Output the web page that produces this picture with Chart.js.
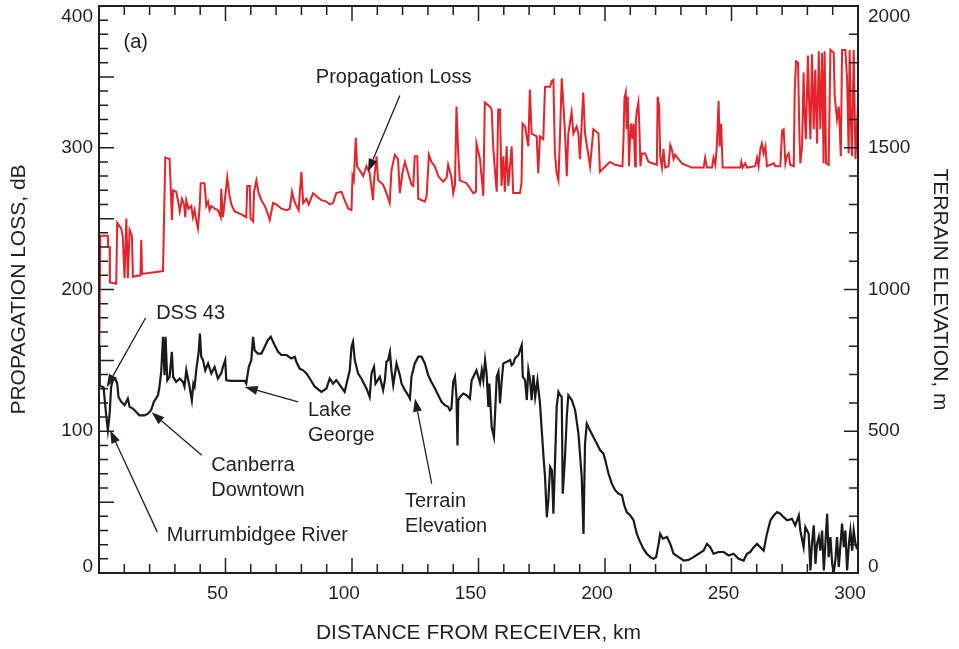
<!DOCTYPE html>
<html>
<head>
<meta charset="utf-8">
<script src="https://cdn.jsdelivr.net/npm/chart.js@4.4.1/dist/chart.umd.min.js"></script>
<style>
  html, body { margin: 0; padding: 0; background: #fff; }
  #wrap { width: 959px; height: 649px; position: relative; }
</style>
</head>
<body>
<div id="wrap"><canvas id="chart"></canvas></div>
<script>
// propagation loss (dB) against distance from receiver (km)
const lossKm = [
  0, 0.5, 3.5, 3.6, 4.2, 4.3, 6.8, 7.2, 8.8, 9.4,
  10.1, 10.8, 11.4, 12.1, 13.0, 13.4, 16.4, 16.7, 17.0, 25.3,
  25.7, 26.2, 27.9, 28.3, 28.8, 29.3, 30.5, 31.2, 31.9, 32.8,
  33.6, 34.1, 34.5, 35.4, 36.5, 37.1, 37.8, 38.4, 39.1, 39.8,
  40.2, 41.7, 42.4, 43.1, 43.7, 44.4, 45.7, 47.0, 48.1, 48.3,
  49.0, 50.7, 51.6, 52.3, 53.6, 56.3, 58.2, 58.6, 59.6, 59.9,
  60.9, 61.3, 62.2, 63.1, 64.2, 65.5, 66.8, 67.5, 68.8, 70.1,
  72.1, 74.1, 75.4, 76.3, 77.1, 78.0, 78.9, 80.0, 80.7, 82.0,
  82.9, 84.6, 85.9, 87.9, 89.9, 91.2, 92.5, 93.8, 95.8, 97.1,
  98.5, 99.8, 100.2, 100.7, 101.5, 102.0, 103.1, 104.4, 105.7, 107.0,
  108.3, 108.7, 109.7, 110.3, 112.3, 113.6, 114.9, 115.6, 116.9, 118.2,
  118.9, 119.9, 120.9, 122.2, 123.5, 124.2, 124.8, 125.8, 126.2, 128.8,
  129.5, 130.4, 131.4, 132.7, 134.1, 136.0, 137.4, 138.0, 139.3, 140.0,
  140.7, 141.3, 142.0, 142.6, 145.3, 147.9, 149.0, 149.2, 150.6, 151.9,
  152.5, 154.5, 155.2, 155.8, 156.5, 157.2, 157.8, 158.5, 159.1, 159.8,
  160.4, 161.1, 161.8, 163.1, 163.7, 166.4, 167.0, 167.4, 168.4, 169.7,
  170.3, 171.0, 173.0, 173.6, 174.3, 175.6, 176.3, 178.3, 178.9, 179.6,
  180.2, 180.9, 181.6, 182.2, 182.9, 183.5, 184.2, 184.9, 185.5, 186.8,
  187.5, 188.8, 189.5, 190.1, 191.4, 192.1, 194.1, 195.4, 197.4, 198.0,
  200.7, 202.0, 204.0, 206.9, 207.3, 207.7, 208.2, 208.6, 209.0, 209.5,
  209.9, 210.3, 210.9, 211.3, 211.9, 212.2, 212.7, 213.2, 213.6, 214.0,
  214.6, 215.9, 217.2, 220.5, 220.8, 221.4, 221.8, 222.5, 223.1, 223.8,
  225.1, 225.8, 226.4, 227.1, 227.7, 230.4, 234.3, 239.0, 239.6, 240.3,
  242.3, 242.9, 243.6, 244.2, 244.9, 245.3, 245.9, 246.5, 253.5, 253.9,
  254.4, 255.4, 256.1, 259.4, 260.1, 260.7, 261.4, 262.0, 262.7, 263.4,
  264.0, 266.7, 267.3, 269.3, 270.0, 270.6, 271.3, 271.9, 272.6, 273.2,
  274.6, 275.0, 275.5, 276.3, 276.8, 277.2, 277.9, 278.5, 278.9, 279.4,
  280.2, 280.8, 281.2, 281.8, 282.5, 283.1, 283.8, 284.5, 285.1, 285.8,
  286.4, 286.8, 287.4, 288.4, 289.1, 290.4, 290.8, 291.7, 292.4, 292.8,
  293.2, 293.7, 295.0, 295.7, 296.3, 296.7, 297.1, 297.6, 298.3, 299.0,
  299.6, 300
];
const lossDb = [
  132, 238, 238, 230, 230, 205, 204, 247, 243, 237,
  208, 250, 208, 242, 238, 209, 210, 235, 211, 213,
  250, 293, 292, 275, 249, 270, 269, 263, 255, 264,
  260, 251, 263, 257, 259, 251, 256, 249, 243, 259,
  275, 275, 259, 262, 256, 259, 257, 256, 251, 271,
  251, 279, 266, 260, 255, 253, 251, 273, 273, 250,
  248, 269, 277, 268, 263, 259, 253, 249, 261, 260,
  257, 256, 257, 269, 263, 259, 256, 283, 261, 264,
  260, 268, 266, 263, 262, 260, 261, 268, 269, 263,
  257, 256, 280, 277, 307, 287, 284, 280, 287, 282,
  263, 277, 294, 277, 274, 268, 261, 284, 295, 292,
  268, 282, 290, 282, 274, 273, 294, 294, 264, 262,
  266, 295, 290, 287, 280, 276, 279, 288, 279, 268,
  274, 329, 296, 277, 275, 268, 269, 303, 292, 266,
  332, 329, 327, 301, 284, 269, 327, 327, 273, 294,
  269, 301, 273, 301, 268, 268, 275, 317, 315, 301,
  341, 310, 308, 282, 308, 306, 343, 343, 347, 348,
  296, 282, 277, 308, 349, 332, 310, 280, 310, 325,
  310, 315, 310, 292, 339, 310, 287, 313, 310, 283,
  288, 290, 288, 287, 306, 335, 339, 313, 336, 287,
  306, 317, 306, 317, 287, 320, 327, 332, 313, 287,
  296, 296, 290, 288, 336, 329, 294, 286, 299, 286,
  287, 302, 299, 292, 295, 289, 286, 286, 293, 286,
  286, 293, 288, 301, 333, 301, 317, 286, 286, 290,
  286, 289, 286, 287, 293, 287, 299, 303, 296, 301,
  287, 289, 287, 287, 312, 313, 289, 294, 296, 288,
  287, 341, 361, 360, 313, 289, 301, 353, 325, 306,
  365, 325, 306, 366, 313, 355, 303, 368, 313, 367,
  289, 368, 289, 288, 369, 367, 336, 320, 329, 313,
  294, 369, 369, 348, 296, 369, 325, 294, 369, 292,
  315, 332
];

// terrain elevation (m) along the same path
const terrainKm = [
  0, 0.3, 1.8, 2.8, 3.5, 4.2, 4.8, 5.5, 6.4, 7.2,
  7.7, 8.8, 10.1, 11.4, 12.1, 13.4, 14.7, 16.0, 18.0, 19.3,
  20.6, 21.7, 23.3, 23.9, 24.6, 25.3, 25.9, 26.3, 27.0, 27.9,
  28.8, 29.3, 30.5, 31.9, 33.2, 33.8, 34.5, 35.8, 36.7, 37.3,
  37.8, 38.5, 39.4, 39.9, 40.4, 41.1, 42.0, 43.1, 44.4, 45.7,
  47.0, 48.3, 49.0, 49.9, 50.3, 52.3, 54.9, 57.6, 58.2, 59.2,
  60.2, 60.9, 61.5, 62.8, 64.2, 65.5, 66.8, 67.9, 69.4, 70.8,
  72.1, 74.1, 76.0, 77.4, 78.0, 79.3, 80.7, 82.0, 83.3, 85.3,
  87.9, 89.9, 91.2, 92.5, 93.8, 95.2, 97.1, 99.1, 99.8, 100.4,
  101.1, 102.4, 103.7, 105.7, 107.0, 107.7, 108.7, 109.3, 111.0, 112.3,
  113.0, 113.6, 114.3, 115.0, 115.6, 116.3, 117.6, 118.9, 119.6, 120.9,
  122.2, 122.9, 123.5, 124.8, 126.2, 127.5, 128.8, 130.1, 131.4, 132.8,
  134.1, 135.4, 136.7, 138.0, 138.7, 139.3, 140.0, 140.7, 141.3, 141.7,
  142.0, 142.7, 144.0, 145.3, 146.6, 147.3, 148.6, 149.2, 150.6, 151.3,
  151.9, 152.6, 153.2, 153.9, 154.3, 155.2, 156.1, 156.5, 157.2, 157.9,
  158.5, 159.2, 159.8, 161.2, 162.5, 163.1, 163.8, 164.4, 165.8, 166.4,
  167.1, 167.5, 168.4, 169.1, 169.7, 170.4, 171.0, 171.7, 172.4, 173.3,
  174.3, 175.0, 175.7, 176.3, 177.0, 177.6, 178.3, 179.0, 179.6, 180.3,
  180.9, 181.6, 182.3, 182.9, 183.3, 184.2, 184.9, 185.5, 186.9, 188.2,
  189.5, 190.8, 191.5, 192.1, 192.8, 194.1, 195.4, 196.8, 198.1, 199.4,
  200.1, 201.4, 202.7, 204.0, 205.3, 206.7, 207.6, 208.6, 210.0, 211.3,
  211.9, 212.6, 213.6, 215.2, 216.5, 217.9, 219.2, 220.2, 221.2, 221.8,
  222.9, 224.5, 225.8, 227.1, 229.1, 231.1, 233.0, 235.0, 237.0, 239.0,
  240.3, 241.6, 242.9, 244.9, 246.9, 248.9, 250.8, 252.8, 254.8, 256.1,
  257.4, 258.8, 260.1, 261.4, 262.7, 264.0, 265.4, 266.7, 268.0, 269.3,
  270.6, 272.0, 273.9, 275.2, 276.6, 277.2, 278.5, 279.2, 280.5, 281.2,
  281.8, 282.5, 283.2, 283.8, 284.5, 285.1, 285.8, 286.5, 287.1, 287.8,
  288.4, 289.1, 289.8, 290.4, 291.1, 291.7, 292.4, 293.7, 294.4, 295.0,
  295.7, 296.4, 297.0, 297.7, 298.3, 299.0, 299.4, 300
];
const terrainM = [
  800, 660, 655, 560, 503, 560, 657, 680, 686, 668,
  621, 604, 592, 615, 586, 580, 568, 556, 556, 562,
  574, 604, 627, 657, 710, 833, 698, 833, 680, 692,
  780, 692, 674, 686, 674, 657, 715, 657, 609, 668,
  657, 721, 780, 845, 763, 751, 715, 739, 704, 727,
  686, 704, 727, 751, 680, 678, 678, 678, 668, 727,
  751, 833, 786, 774, 774, 798, 822, 833, 804, 780,
  769, 769, 757, 763, 745, 721, 715, 704, 686, 657,
  639, 651, 686, 668, 680, 663, 639, 715, 798, 816,
  751, 704, 686, 651, 621, 704, 727, 668, 692, 645,
  680, 745, 751, 780, 715, 663, 739, 698, 668, 645,
  627, 615, 692, 739, 763, 763, 739, 698, 674, 651,
  627, 604, 592, 586, 574, 580, 674, 692, 621, 450,
  609, 621, 633, 627, 615, 680, 704, 715, 670, 716,
  680, 751, 704, 586, 668, 515, 480, 551, 692, 710,
  598, 680, 739, 745, 751, 733, 739, 757, 769, 786,
  804, 692, 680, 610, 716, 680, 610, 698, 621, 680,
  598, 503, 409, 339, 197, 256, 374, 362, 209, 409,
  586, 639, 627, 621, 280, 409, 551, 627, 610, 574,
  492, 339, 138, 456, 527, 503, 480, 456, 433, 421,
  398, 350, 315, 292, 280, 274, 239, 215, 203, 186,
  162, 138, 115, 85, 68, 56, 50, 56, 103, 138,
  121, 127, 103, 68, 56, 44, 46, 56, 68, 79,
  103, 91, 68, 74, 74, 62, 68, 50, 44, 68,
  74, 91, 103, 91, 79, 138, 186, 203, 215, 209,
  197, 186, 191, 168, 203, 150, 91, 162, 138, 9,
  103, 168, 32, 103, 127, 79, 150, 9, 103, 209,
  56, 127, 32, 0, 50, 127, 21, 174, 91, 150,
  9, 103, 150, 79, 150, 103, 91, 100
];

const distanceTicks = [50, 100, 150, 200, 250, 300];
const lossTicks = [0, 100, 200, 300, 400];
const elevationTicks = [0, 500, 1000, 1500, 2000];

// callouts, placed in (km, dB) units
const notes = [
  { lines: ['(a)'], km: 9.7, db: 374 },
  { lines: ['Propagation Loss'], km: 85.7, db: 349.5 },
  { lines: ['DSS 43'], km: 22.6, db: 183.4 },
  { lines: ['Canberra', 'Downtown'], km: 44.4, db: 76 },
  { lines: ['Murrumbidgee River'], km: 26.8, db: 26.5 },
  { lines: ['Lake', 'George'], km: 82.6, db: 114.8 },
  { lines: ['Terrain', 'Elevation'], km: 120.9, db: 50.5 }
];
const arrows = [
  { from: [118.9, 336.8], to: [106.3, 283] },
  { from: [18.4, 179.9], to: [3.0, 131.1] },
  { from: [40.6, 83.0], to: [20.8, 113.4] },
  { from: [23.0, 29], to: [4.4, 100.7] },
  { from: [78.7, 120.7], to: [57.6, 131.3] },
  { from: [131.5, 63], to: [124.9, 123.1] }
];

const INK = '#231f20';
const FONT = '"Liberation Sans", Arial, sans-serif';

function drawArrow(ctx, x1, y1, x2, y2) {
  const ang = Math.atan2(y2 - y1, x2 - x1);
  const len = 13, half = 4.5;
  const bx = x2 - Math.cos(ang) * len, by = y2 - Math.sin(ang) * len;
  ctx.beginPath();
  ctx.moveTo(x1, y1);
  ctx.lineTo(bx, by);
  ctx.stroke();
  ctx.beginPath();
  ctx.moveTo(x2, y2);
  ctx.lineTo(bx + Math.sin(ang) * half, by - Math.cos(ang) * half);
  ctx.lineTo(bx - Math.sin(ang) * half, by + Math.cos(ang) * half);
  ctx.closePath();
  ctx.fill();
}

const frameAndLabels = {
  id: 'frameAndLabels',
  afterDatasetsDraw(chart) {
    const { ctx, chartArea: a, scales } = chart;
    const x = scales.x, yl = scales.yLoss, yr = scales.yElev;
    ctx.save();
    ctx.strokeStyle = INK;
    ctx.fillStyle = INK;

    // inward tick marks
    ctx.lineWidth = 1.5;
    ctx.beginPath();
    for (let v = 10; v < 300; v += 10) {
      const px = x.getPixelForValue(v);
      const len = v % 50 === 0 ? 15 : 9;
      ctx.moveTo(px, a.bottom); ctx.lineTo(px, a.bottom - len);
      ctx.moveTo(px, a.top); ctx.lineTo(px, a.top + len);
    }
    for (let v = 10; v < 400; v += 10) {
      const py = yl.getPixelForValue(v);
      ctx.moveTo(a.left, py); ctx.lineTo(a.left + (v % 50 === 0 ? 15 : 9), py);
    }
    for (let v = 100; v < 2000; v += 100) {
      const py = yr.getPixelForValue(v);
      ctx.moveTo(a.right, py); ctx.lineTo(a.right - (v % 500 === 0 ? 14 : 9), py);
    }
    ctx.stroke();

    ctx.lineWidth = 2;
    ctx.strokeRect(a.left, a.top, a.width, a.height);

    // tick labels
    ctx.font = '19px ' + FONT;
    ctx.textBaseline = 'middle';
    const clampY = py => Math.min(Math.max(py, a.top + 11), a.bottom - 6);
    ctx.textAlign = 'right';
    lossTicks.forEach(v => ctx.fillText(String(v), a.left - 6, clampY(yl.getPixelForValue(v))));
    ctx.textAlign = 'left';
    elevationTicks.forEach(v => ctx.fillText(String(v), a.right + 10, clampY(yr.getPixelForValue(v))));
    ctx.textAlign = 'center';
    distanceTicks.forEach(v => ctx.fillText(String(v), x.getPixelForValue(v) - 8, a.bottom + 21));

    // callouts
    ctx.font = '20px ' + FONT;
    ctx.textAlign = 'left';
    notes.forEach(n => {
      const px = x.getPixelForValue(n.km), py = yl.getPixelForValue(n.db);
      n.lines.forEach((t, i) => ctx.fillText(t, px, py + i * 25));
    });
    ctx.lineWidth = 1.3;
    arrows.forEach(ar => drawArrow(ctx,
      x.getPixelForValue(ar.from[0]), yl.getPixelForValue(ar.from[1]),
      x.getPixelForValue(ar.to[0]), yl.getPixelForValue(ar.to[1])));
    ctx.restore();
  }
};

const titleFont = { family: FONT, size: 21 };

new Chart(document.getElementById('chart'), {
  type: 'line',
  data: {
    datasets: [
      {
        label: 'Terrain Elevation',
        data: terrainKm.map((km, i) => ({ x: km, y: terrainM[i] })),
        yAxisID: 'yElev',
        borderColor: '#1a1a1a',
        borderWidth: 2.2,
        pointRadius: 0,
        tension: 0
      },
      {
        label: 'Propagation Loss',
        data: lossKm.map((km, i) => ({ x: km, y: lossDb[i] })),
        yAxisID: 'yLoss',
        borderColor: '#e4232a',
        borderWidth: 2,
        pointRadius: 0,
        tension: 0
      }
    ]
  },
  options: {
    responsive: true,
    maintainAspectRatio: false,
    animation: false,
    layout: { padding: { top: 6, left: 0, right: 0, bottom: 0 } },
    plugins: { legend: { display: false }, tooltip: { enabled: false } },
    scales: {
      x: {
        type: 'linear', position: 'bottom', min: 0, max: 300,
        grid: { display: false }, border: { display: false },
        ticks: { display: false },
        title: { display: true, text: 'DISTANCE FROM RECEIVER, km', color: INK, font: titleFont, padding: { top: 0, bottom: 3 } },
        afterFit: s => { s.height = 76; }
      },
      yLoss: {
        type: 'linear', position: 'left', min: 0, max: 400,
        grid: { display: false }, border: { display: false },
        ticks: { display: false },
        title: { display: true, text: 'PROPAGATION LOSS, dB', color: INK, font: titleFont, padding: { top: 7, bottom: 0 } },
        afterFit: s => { s.width = 99; }
      },
      yElev: {
        type: 'linear', position: 'right', min: 0, max: 2000,
        grid: { display: false }, border: { display: false },
        ticks: { display: false },
        title: { display: true, text: 'TERRAIN ELEVATION, m', color: INK, font: titleFont, padding: { top: 7, bottom: 0 } },
        afterFit: s => { s.width = 101; }
      }
    }
  },
  plugins: [frameAndLabels]
});
</script>
</body>
</html>
